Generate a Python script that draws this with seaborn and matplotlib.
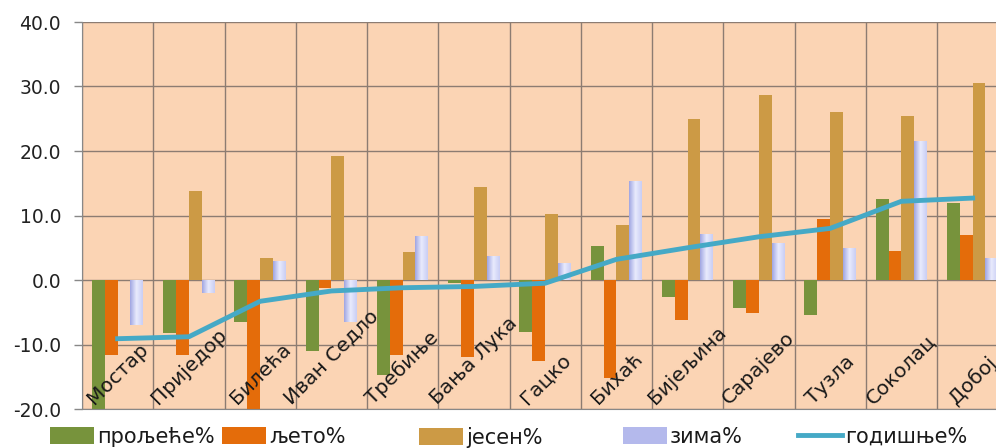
import numpy as np
import pandas as pd
import matplotlib
matplotlib.use("Agg")
import matplotlib.pyplot as plt
import seaborn as sns
from matplotlib.patches import Patch
from matplotlib.lines import Line2D
from matplotlib.colors import LinearSegmentedColormap

# ---- data ----
stations = ["Мостар", "Приједор", "Билећа", "Иван Седло", "Требиње", "Бања Лука",
            "Гацко", "Бихаћ", "Бијељина", "Сарајево", "Тузла", "Соколац", "Добој"]
spring = [-20.5, -8.2, -6.5, -11.0, -14.8, -0.4, -8.0, 5.3, -2.6, -4.3, -5.5, 12.6, 11.9]
summer = [-11.7, -11.7, -20.5, -1.2, -11.6, -12.0, -12.6, -15.2, -6.2, -5.1, 9.5, 4.5, 7.0]
autumn = [0.0, 13.8, 3.4, 19.2, 4.3, 14.4, 10.3, 8.5, 25.0, 28.7, 26.0, 25.5, 30.6]
winter = [-6.9, -2.0, 2.9, -6.5, 6.8, 3.7, 2.6, 15.4, 7.2, 5.8, 4.9, 21.6, 3.4]
annual = [-9.1, -8.8, -3.3, -1.7, -1.2, -1.0, -0.5, 3.2, 5.0, 6.7, 8.0, 12.2, 12.7]
series_names = ["прољеће%", "љето%", "јесен%", "зима%"]
annual_name = "годишње%"
yticks = [-20, -10, 0, 10, 20, 30, 40]

c_green = "#77933C"
c_orange = "#E46C0A"
c_gold = "#CC9A45"
c_winter = "#C4C9F2"
c_line = "#45A9C6"
c_bg = "#FBD4B4"
c_grid = "#8C7C72"

df = pd.DataFrame({
    "station": np.repeat(stations, 4),
    "season": series_names * len(stations),
    "value": np.ravel(np.column_stack([spring, summer, autumn, winter])),
})

fig = plt.figure(figsize=(9.96, 4.48), dpi=100)
W, H = 996, 448
ax = fig.add_axes([82 / W, 1 - 409 / H, (W - 82) / W, (409 - 22) / H])
ax.set_facecolor(c_bg)

sns.barplot(data=df, x="station", y="value", hue="season", order=stations,
            hue_order=series_names,
            palette=[c_green, c_orange, c_gold, c_winter],
            width=0.72, dodge=True, saturation=1, legend=False, ax=ax,
            errorbar=None, linewidth=0)

# gradient fill on winter bars
cmap = LinearSegmentedColormap.from_list("w", ["#9FA5E2", "#E9EBFD", "#C9CDF4"])
grad = np.linspace(0, 1, 64).reshape(1, -1)
winter_cont = ax.containers[3]
for p in winter_cont.patches:
    x0, y0 = p.get_x(), p.get_y()
    w, h = p.get_width(), p.get_height()
    if h == 0:
        continue
    ylo, yhi = min(y0, y0 + h), max(y0, y0 + h)
    im = ax.imshow(grad, cmap=cmap, aspect="auto", extent=(x0, x0 + w, ylo, yhi),
                   zorder=p.get_zorder() + 0.1, interpolation="bilinear")
    im.set_clip_path(p)
ax.set_xlim(-0.5, -0.5 + (W - 82) / 71.25)
ax.set_ylim(-20, 40)

sns.lineplot(x=np.arange(len(stations)), y=annual, color=c_line, lw=3.5, ax=ax,
             zorder=5)

# grids
ax.set_yticks(yticks)
ax.set_yticklabels([f"{v:.1f}" for v in yticks], fontsize=13.5, color="#222222")
ax.set_xticks([])
ax.grid(False)
for yv in yticks:
    ax.axhline(yv, color=c_grid, lw=1.0, zorder=0.5)
for xv in np.arange(len(stations) + 1) - 0.5:
    ax.axvline(xv, color=c_grid, lw=1.0, zorder=0.5)
ax.tick_params(axis="y", which="major", length=6, width=1, color="#888888",
               direction="out", pad=9)
ax.tick_params(axis="x", which="both", length=0)
for s in ["top", "right"]:
    ax.spines[s].set_visible(False)
ax.spines["left"].set_color("#888888")
ax.spines["bottom"].set_color("#888888")
ax.set_xlabel("")
ax.set_ylabel("")

# category labels inside plot, rotated
for i, name in enumerate(stations):
    ax.text(i, -19.8, name, rotation=45, ha="center", va="bottom",
            fontsize=14.5, color="#1a1a1a", zorder=6)

# legend items placed individually
ly = 1 - 437 / H
handles = [Patch(facecolor=c_green), Patch(facecolor=c_orange),
           Patch(facecolor=c_gold), Patch(facecolor="#B4B9EC"),
           Line2D([0], [0], color=c_line, lw=3.5)]
labels = series_names + [annual_name]
xs = [50, 222, 419, 623, 798]
for h_, l_, x_ in zip(handles, labels, xs):
    fig.legend([h_], [l_], loc="center left", bbox_to_anchor=(x_ / W, ly),
               frameon=False, fontsize=15, handlelength=2.1, handleheight=0.85,
               handletextpad=0.15, borderpad=0, borderaxespad=0,
               labelcolor="#1a1a1a")

fig.savefig("out.png", dpi=100, facecolor="white")
